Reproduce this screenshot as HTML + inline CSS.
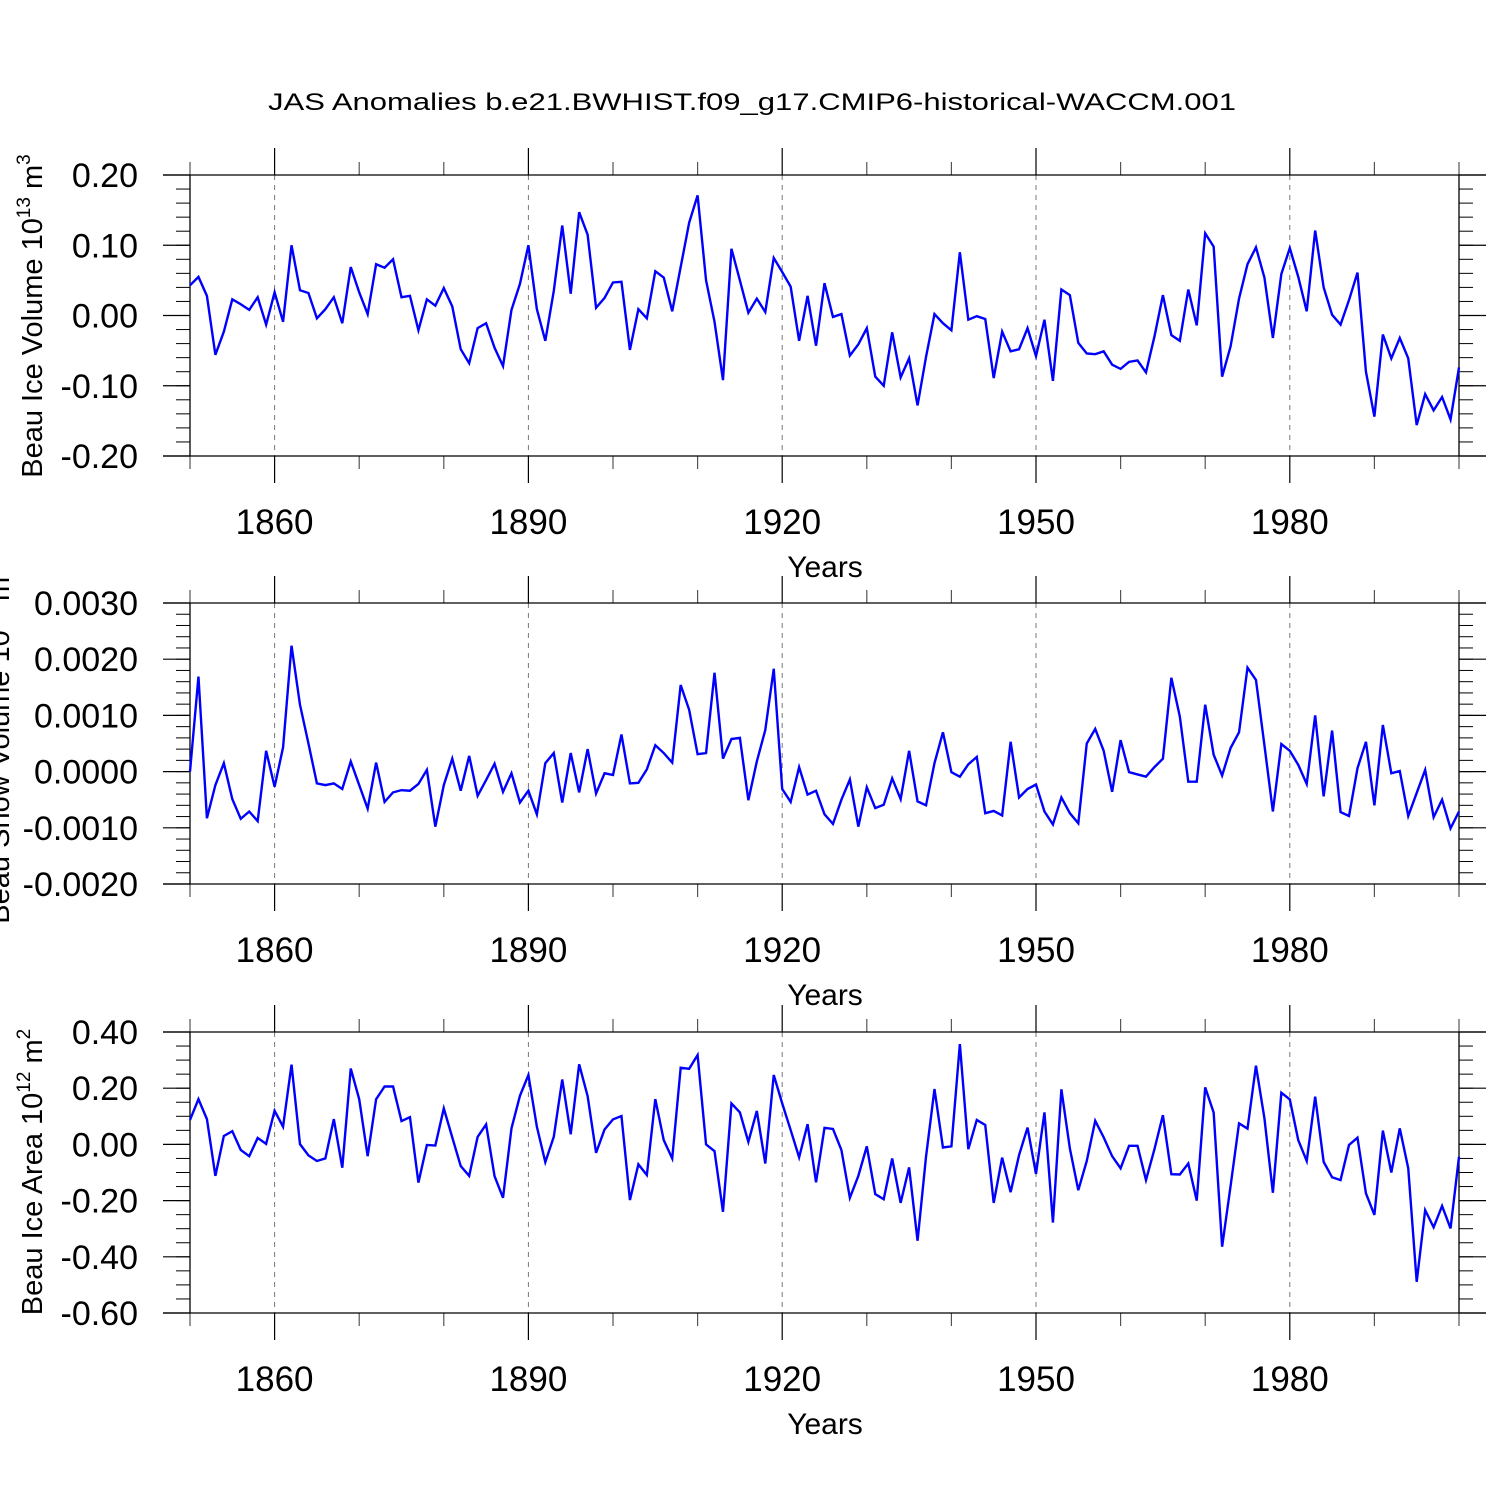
<!DOCTYPE html>
<html>
<head>
<meta charset="utf-8">
<style>
  html, body { margin: 0; padding: 0; background: #ffffff; }
  #chart { display: block; }
  text { font-family: "Liberation Sans", "DejaVu Sans", sans-serif; fill: #000; }
</style>
</head>
<body>
<svg id="chart" width="1500" height="1500" viewBox="0 0 1500 1500" xmlns="http://www.w3.org/2000/svg">
  <rect x="0" y="0" width="1500" height="1500" fill="#ffffff"/>
  <text x="752" y="110" font-size="24" text-anchor="middle" textLength="968" lengthAdjust="spacingAndGlyphs">JAS Anomalies b.e21.BWHIST.f09_g17.CMIP6-historical-WACCM.001</text>
  <text transform="translate(42,316) rotate(-90)" font-size="29" text-anchor="middle">Beau Ice Volume 10<tspan font-size="19" dy="-12">13</tspan><tspan dy="12"> m</tspan><tspan font-size="19" dy="-12">3</tspan></text>
  <text transform="translate(9,745) rotate(-90)" font-size="29" text-anchor="middle">Beau Snow Volume 10<tspan font-size="19" dy="-12">13</tspan><tspan dy="12"> m</tspan><tspan font-size="19" dy="-12">3</tspan></text>
  <text transform="translate(42,1172) rotate(-90)" font-size="29" text-anchor="middle">Beau Ice Area 10<tspan font-size="19" dy="-12">12</tspan><tspan dy="12"> m</tspan><tspan font-size="19" dy="-12">2</tspan></text>
</svg>
<script>
const years = [];
for (let y = 1850; y <= 2000; y++) years.push(y);

const iceVolume = [
0.043,0.055,0.028,-0.056,-0.023,0.023,0.016,0.008,0.026,-0.013,
0.033,-0.009,0.100,0.036,0.032,-0.004,0.009,0.026,-0.011,0.069,
0.033,0.002,0.073,0.068,0.080,0.026,0.028,-0.021,0.023,0.014,
0.039,0.013,-0.048,-0.068,-0.018,-0.011,-0.046,-0.072,0.008,0.045,
0.100,0.009,-0.036,0.035,0.128,0.031,0.147,0.115,0.011,0.025,
0.047,0.048,-0.049,0.009,-0.004,0.063,0.054,0.006,0.069,0.132,
0.171,0.050,-0.009,-0.092,0.095,0.050,0.004,0.024,0.005,0.082,
0.062,0.041,-0.036,0.028,-0.043,0.046,-0.002,0.002,-0.057,-0.041,
-0.018,-0.087,-0.100,-0.024,-0.088,-0.061,-0.128,-0.059,0.002,-0.011,
-0.021,0.090,-0.006,-0.001,-0.005,-0.089,-0.023,-0.051,-0.048,-0.018,
-0.058,-0.006,-0.093,0.037,0.029,-0.039,-0.054,-0.055,-0.051,-0.070,
-0.076,-0.066,-0.064,-0.081,-0.030,0.029,-0.028,-0.036,0.037,-0.014,
0.117,0.098,-0.087,-0.044,0.024,0.073,0.097,0.054,-0.032,0.059,
0.096,0.055,0.006,0.121,0.040,0.001,-0.013,0.022,0.061,-0.080,
-0.144,-0.027,-0.061,-0.032,-0.061,-0.156,-0.112,-0.135,-0.116,-0.148,
-0.074];

const snowVolume = [
0.00e-3,1.69e-3,-0.83e-3,-0.24e-3,0.15e-3,-0.49e-3,-0.84e-3,-0.71e-3,-0.88e-3,0.37e-3,
-0.27e-3,0.43e-3,2.24e-3,1.19e-3,0.50e-3,-0.21e-3,-0.24e-3,-0.21e-3,-0.31e-3,0.18e-3,
-0.24e-3,-0.66e-3,0.16e-3,-0.54e-3,-0.37e-3,-0.33e-3,-0.34e-3,-0.22e-3,0.03e-3,-0.98e-3,
-0.24e-3,0.23e-3,-0.34e-3,0.28e-3,-0.43e-3,-0.15e-3,0.14e-3,-0.36e-3,-0.03e-3,-0.55e-3,
-0.34e-3,-0.76e-3,0.15e-3,0.33e-3,-0.55e-3,0.33e-3,-0.37e-3,0.40e-3,-0.39e-3,-0.03e-3,
-0.06e-3,0.66e-3,-0.21e-3,-0.20e-3,0.04e-3,0.47e-3,0.33e-3,0.16e-3,1.54e-3,1.10e-3,
0.31e-3,0.33e-3,1.76e-3,0.23e-3,0.58e-3,0.60e-3,-0.51e-3,0.18e-3,0.74e-3,1.83e-3,
-0.31e-3,-0.54e-3,0.08e-3,-0.41e-3,-0.34e-3,-0.76e-3,-0.93e-3,-0.50e-3,-0.14e-3,-0.98e-3,
-0.28e-3,-0.65e-3,-0.59e-3,-0.12e-3,-0.49e-3,0.37e-3,-0.53e-3,-0.60e-3,0.15e-3,0.70e-3,
-0.01e-3,-0.09e-3,0.13e-3,0.26e-3,-0.74e-3,-0.70e-3,-0.78e-3,0.53e-3,-0.46e-3,-0.31e-3,
-0.23e-3,-0.71e-3,-0.94e-3,-0.46e-3,-0.74e-3,-0.92e-3,0.50e-3,0.76e-3,0.37e-3,-0.36e-3,
0.56e-3,-0.01e-3,-0.05e-3,-0.09e-3,0.08e-3,0.23e-3,1.67e-3,0.98e-3,-0.18e-3,-0.18e-3,
1.19e-3,0.30e-3,-0.07e-3,0.42e-3,0.70e-3,1.85e-3,1.63e-3,0.47e-3,-0.71e-3,0.49e-3,
0.37e-3,0.12e-3,-0.22e-3,1.00e-3,-0.44e-3,0.73e-3,-0.72e-3,-0.79e-3,0.06e-3,0.53e-3,
-0.60e-3,0.83e-3,-0.03e-3,0.01e-3,-0.79e-3,-0.38e-3,0.03e-3,-0.81e-3,-0.50e-3,-1.01e-3,
-0.71e-3];

const iceArea = [
0.087,0.161,0.090,-0.112,0.030,0.047,-0.020,-0.042,0.023,0.002,
0.120,0.063,0.284,0.001,-0.039,-0.059,-0.050,0.090,-0.083,0.270,
0.161,-0.042,0.161,0.206,0.206,0.083,0.097,-0.136,-0.002,-0.004,
0.128,0.025,-0.077,-0.112,0.027,0.071,-0.113,-0.190,0.057,0.173,
0.247,0.063,-0.063,0.027,0.231,0.036,0.285,0.172,-0.030,0.053,
0.089,0.101,-0.198,-0.071,-0.109,0.161,0.015,-0.050,0.273,0.269,
0.318,0.000,-0.024,-0.240,0.146,0.114,0.009,0.119,-0.068,0.247,
0.146,0.051,-0.046,0.072,-0.135,0.059,0.055,-0.020,-0.190,-0.112,
-0.007,-0.177,-0.195,-0.050,-0.208,-0.082,-0.343,-0.044,0.197,-0.011,
-0.007,0.357,-0.017,0.087,0.069,-0.208,-0.047,-0.170,-0.038,0.060,
-0.105,0.114,-0.278,0.196,-0.014,-0.163,-0.059,0.084,0.025,-0.042,
-0.085,-0.005,-0.005,-0.127,-0.017,0.104,-0.106,-0.107,-0.068,-0.200,
0.203,0.113,-0.364,-0.148,0.075,0.056,0.280,0.093,-0.172,0.184,
0.160,0.015,-0.059,0.170,-0.062,-0.117,-0.127,-0.002,0.024,-0.174,
-0.251,0.049,-0.100,0.057,-0.085,-0.489,-0.234,-0.295,-0.219,-0.299,
-0.044];

const xTickYears = [1860, 1890, 1920, 1950, 1980];
const xMinorYears = [1850,1870,1880,1900,1910,1930,1940,1960,1970,1990,2000];
const iceVolumeTicks = [-0.2, -0.1, 0.0, 0.1, 0.2];
const snowVolumeTicks = [-0.002, -0.001, 0.0, 0.001, 0.002, 0.003];
const iceAreaTicks = [-0.6, -0.4, -0.2, 0.0, 0.2, 0.4];

const NS = "http://www.w3.org/2000/svg";
const svg = document.getElementById("chart");
const X0 = 190, X1 = 1459, YEAR0 = 1850, YEAR1 = 2000;
function xScale(yr) { return X0 + (yr - YEAR0) * (X1 - X0) / (YEAR1 - YEAR0); }

function mk(tag, attrs) {
  const e = document.createElementNS(NS, tag);
  for (const k in attrs) e.setAttribute(k, attrs[k]);
  return e;
}

function drawPanel(key, top, bottom, ymin, ymax, ticks, minorStep, decimals, values) {
  const g = mk("g", {});
  
  
  svg.appendChild(g);
  const yScale = v => bottom - (v - ymin) * (bottom - top) / (ymax - ymin);

  xTickYears.forEach(yr => {
    const l = mk("line", {x1: xScale(yr), x2: xScale(yr), y1: top, y2: bottom, stroke: "#777", "stroke-width": 1, "stroke-dasharray": "5,5"});
    
    
    g.appendChild(l);
  });

  const nMinor = Math.round((ymax - ymin) / minorStep);
  for (let i = 1; i < nMinor; i++) {
    const y = yScale(ymin + i * minorStep);
    [[X0 - 14, X0], [X1, X1 + 14]].forEach(p => {
      const l = mk("line", {x1: p[0], x2: p[1], y1: y, y2: y, stroke: "#000", "stroke-width": 1});
      
      
      g.appendChild(l);
    });
  }
  ticks.forEach(t => {
    const y = yScale(t);
    [[X0 - 27, X0], [X1, X1 + 27]].forEach(p => {
      const l = mk("line", {x1: p[0], x2: p[1], y1: y, y2: y, stroke: "#000", "stroke-width": 1.2});
      
      
      g.appendChild(l);
    });
    const tx = mk("text", {x: 138, y: y + 12, "font-size": 34, "text-anchor": "end"});
    tx.textContent = t.toFixed(decimals);
    
    
    g.appendChild(tx);
  });
  xMinorYears.forEach(yr => {
    const x = xScale(yr);
    [[top - 13, top], [bottom, bottom + 13]].forEach(p => {
      const l = mk("line", {x1: x, x2: x, y1: p[0], y2: p[1], stroke: "#555", "stroke-width": 1.2});
      
      
      g.appendChild(l);
    });
  });
  xTickYears.forEach(yr => {
    const x = xScale(yr);
    [[top - 27, top], [bottom, bottom + 27]].forEach(p => {
      const l = mk("line", {x1: x, x2: x, y1: p[0], y2: p[1], stroke: "#000", "stroke-width": 1.2});
      
      
      g.appendChild(l);
    });
    const tx = mk("text", {x: x, y: bottom + 78, "font-size": 35, "text-anchor": "middle"});
    tx.textContent = String(yr);
    
    
    g.appendChild(tx);
  });
  const xt = mk("text", {x: 825, y: bottom + 121, "font-size": 30, "text-anchor": "middle"});
  xt.textContent = "Years";
  
  
  g.appendChild(xt);

  [top, bottom].forEach(y => {
    const l = mk("line", {x1: X0 - 27, x2: X1 + 27, y1: y, y2: y, stroke: "#000", "stroke-width": 1.3});
    
    
    g.appendChild(l);
  });
  [X0, X1].forEach(x => {
    const l = mk("line", {x1: x, x2: x, y1: top, y2: bottom, stroke: "#000", "stroke-width": 1.3});
    
    
    g.appendChild(l);
  });

  const pts = values.map((v, i) => xScale(years[i]).toFixed(2) + "," + yScale(v).toFixed(2)).join(" ");
  const pl = mk("polyline", {points: pts, fill: "none", stroke: "#0000ff", "stroke-width": 2.4, "stroke-linejoin": "miter"});
  
  
  g.appendChild(pl);
}

drawPanel("ice-volume", 175, 456, -0.2, 0.2, iceVolumeTicks, 0.02, 2, iceVolume);
drawPanel("snow-volume", 603, 884, -0.002, 0.003, snowVolumeTicks, 0.0002, 4, snowVolume);
drawPanel("ice-area", 1032, 1313, -0.6, 0.4, iceAreaTicks, 0.05, 2, iceArea);
</script>
</body>
</html>
